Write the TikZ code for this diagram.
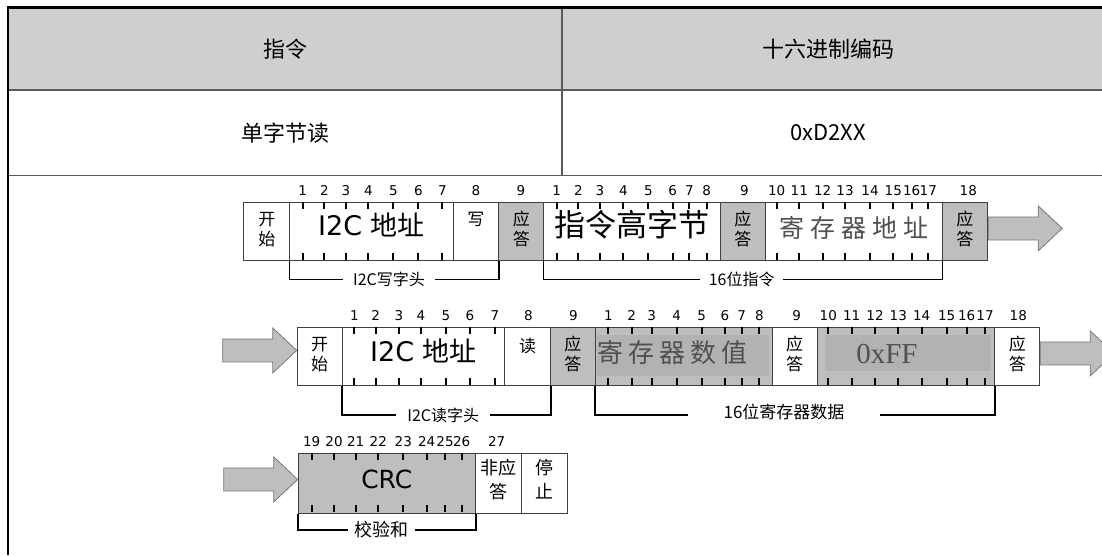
\documentclass[tikz,border=0pt]{standalone}
\usepackage{fontspec}
\setmainfont{DejaVu Sans}
\newfontfamily\cjk{Noto Sans CJK SC}
\newfontfamily\romanff{Liberation Serif}
\usetikzlibrary{positioning}
\definecolor{hdgray}{HTML}{D0CECE}
\definecolor{ackgray}{HTML}{BEBEBE}
\definecolor{innergray}{HTML}{B2B2B2}
\definecolor{boxline}{HTML}{404040}
\definecolor{tabline}{HTML}{5A5A5A}
\definecolor{fadetext}{HTML}{505050}
\definecolor{arrowline}{HTML}{787878}
\tikzset{
    cell/.style={draw=boxline, line width=0.9pt, inner sep=0pt, anchor=north west,
    	minimum height=58.5pt},
    ack/.style={cell, fill=ackgray},
    small/.style={inner sep=0pt, align=center, font=\cjk\fontsize{17}{20}\selectfont},
    big/.style={inner sep=0pt, font=\fontsize{27}{30}\selectfont}
}
\tikzset{
    tick/.style={line width=1.8pt},
    bitno/.style={inner sep=0pt, anchor=base, font=\fontsize{13.5}{15}\selectfont},
    bracket/.style={line width=1.6pt},
    brlabel/.style={inner sep=0pt, font=\cjk\fontsize{16}{18}\selectfont}
}
\tikzset{
    tabtext/.style={inner sep=0pt, font=\cjk\fontsize{22}{26}\selectfont},
    pics/cont/.style={code={
    	\draw[draw=arrowline, fill=ackgray, line width=0.8pt]
    	(0,-11.5) -- (50,-11.5) -- (50,-22.5) -- (74,0) -- (50,22.5) -- (50,11.5) -- (0,11.5) -- cycle;
    }}
}

\begin{document}
\begin{tikzpicture}[x=1pt,y=-1pt]
  \useasboundingbox (0,0) rectangle (1102,555);
  \fill[white] (0,0) rectangle (1102,555);

  \fill[hdgray] (9,9) rectangle (1102,90);
  \draw[tabline, line width=1.2pt] (8,90) -- (1102,90);
  \draw[tabline, line width=1.2pt] (8,175.5) -- (1102,175.5);
  \draw[tabline, line width=1.2pt] (562,9) -- (562,175.5);
  \draw[line width=3pt] (6.5,7.5) -- (1102,7.5);
  \draw[line width=2.6pt] (8,6) -- (8,555);

  \node (hd1) [tabtext] at (285,49.5) {指令};
  \node (hd2) [tabtext] at (828,49.5) {十六进制编码};
  \node (cmd) [tabtext] at (285,132.7) {单字节读};
  \node (code) [tabtext] at (828,132.7) {0xD2XX};

  \node (st1) [cell, minimum width=46pt] at (243.3,201.7) {};
  \node (ad1) [cell, minimum width=163.4pt] at (289.3,201.7) {};
  \node (wr1) [cell, minimum width=45.6pt] at (452.7,201.7) {};
  \node (ak1) [ack, minimum width=45pt] at (498.3,201.7) {};
  \node (ch1) [cell, minimum width=176.7pt] at (543.3,201.7) {};
  \node (ak2) [ack, minimum width=45pt] at (720,201.7) {};
  \node (ra1) [cell, minimum width=176.7pt] at (765,201.7) {};
  \node (ak3) [ack, minimum width=45.6pt] at (941.7,201.7) {};

  \node (st1t) [small] at ([yshift=2pt]st1.center) {开\\始};
  \node (ad1t) [big] at ([yshift=6pt]ad1.center) {I2C {\cjk 地址}};
  \node (wr1t) [small, below=10pt of wr1.north] {写};
  \node (ak1t) [small] at ([yshift=2pt]ak1.center) {应\\答};
  \node (ch1t) [inner sep=0pt, font=\cjk\fontsize{31}{34}\selectfont] at ([yshift=7pt]ch1.center) {指令高字节};
  \node (ak2t) [small] at ([yshift=2pt]ak2.center) {应\\答};
  \node (ra1t) [inner sep=0pt, text=fadetext, font=\cjk\fontsize{25}{28}\selectfont] at ([yshift=3pt]ra1.center)
  	{寄\hspace{6pt}存\hspace{6pt}器\hspace{6pt}地\hspace{6pt}址};
  \node (ak3t) [small] at ([yshift=2pt]ak3.center) {应\\答};

  \foreach \x/\n [count=\k] in {302.7/1,324.3/2,346/3,368.3/4,393.3/5,418.3/6,442.3/7,
  	556.7/1,578.3/2,600/3,623.3/4,648.3/5,672.7/6,689.3/7,706.7/8,
  	776.7/10,799.3/11,822.7/12,845/13,870/14,893.3/15,911.7/16,928.3/17} {
    \node (ba\k) [bitno] at (\x,195) {\n};
    \draw[tick] (\x,201.7) -- ++(0,7);
    \draw[tick] (\x,260.2) -- ++(0,-7);
  }
  \foreach \x/\n [count=\k] in {476/8,521/9,744.3/9,968.3/18}
    \node (bb\k) [bitno] at (\x,195) {\n};

  \node (hw1) [brlabel, minimum width=92pt] at (389,279.3) {I2C写字头};
  \draw[bracket] (ad1.south west) |- (hw1.west);
  \draw[bracket] (hw1.east) -| (wr1.south east);
  \node (ci1) [brlabel, minimum width=83pt] at (741.7,279.3) {16位指令};
  \draw[bracket] (ch1.south west) |- (ci1.west);
  \draw[bracket] (ci1.east) -| (ra1.south east);

  \pic at ([yshift=3pt]ak3.east) {cont};

  \node (st2) [cell, minimum width=45pt] at (296.7,326.7) {};
  \node (ad2) [cell, minimum width=162.6pt] at (341.7,326.7) {};
  \node (rd2) [cell, minimum width=45.7pt] at (504.3,326.7) {};
  \node (ak4) [ack, minimum width=45pt] at (550,326.7) {};
  \node (rv2) [ack, minimum width=176.7pt] at (595,326.7) {};
  \node (ak5) [cell, minimum width=45pt] at (771.7,326.7) {};
  \node (ff2) [ack, minimum width=177.6pt] at (816.7,326.7) {};
  \node (ak6) [cell, minimum width=45pt] at (994.3,326.7) {};
  \fill[innergray] ([xshift=2pt,yshift=-8pt]rv2.north west) rectangle ([xshift=-4pt,yshift=10pt]rv2.south east);
  \fill[innergray] ([xshift=8pt,yshift=-8pt]ff2.north west) rectangle ([xshift=-4pt,yshift=15pt]ff2.south east);

  \node (st2t) [small] at ([yshift=2pt]st2.center) {开\\始};
  \node (ad2t) [big] at ([yshift=5pt]ad2.center) {I2C {\cjk 地址}};
  \node (rd2t) [small, below=11pt of rd2.north] {读};
  \node (ak4t) [small] at ([yshift=2pt]ak4.center) {应\\答};
  \node (rv2t) [inner sep=0pt, text=fadetext, font=\cjk\fontsize{26}{28}\selectfont] at ([yshift=4pt,xshift=-11pt]rv2.center)
  	{寄\hspace{5pt}存\hspace{5pt}器\hspace{5pt}数\hspace{5pt}值};
  \node (ak5t) [small] at ([yshift=2pt]ak5.center) {应\\答};
  \node (ff2t) [inner sep=0pt, text=fadetext, font=\romanff\fontsize{29}{30}\selectfont] at ([yshift=2pt,xshift=-19pt]ff2.center) {0xFF};
  \node (ak6t) [small] at ([yshift=2pt]ak6.center) {应\\答};

  \foreach \x/\n [count=\k] in {354.3/1,375.7/2,399/3,421/4,446/5,470/6,495/7,
  	608.3/1,631.7/2,651.7/3,676.7/4,701.7/5,725/6,741.7/7,759.3/8,
  	828.3/10,851.7/11,875/12,898.3/13,921.7/14,946.7/15,966.7/16,985/17} {
    \node (bc\k) [bitno] at (\x,320) {\n};
    \draw[tick] (\x,326.7) -- ++(0,7);
    \draw[tick] (\x,385.2) -- ++(0,-7);
  }
  \foreach \x/\n [count=\k] in {528.3/8,573.3/9,796.7/9,1018.3/18}
    \node (bd\k) [bitno] at (\x,320) {\n};

  \node (hr2) [brlabel, minimum width=93.3pt] at (443.3,415) {I2C读字头};
  \draw[bracket] (ad2.south west) |- (hr2.west);
  \draw[bracket] (hr2.east) -| (rd2.south east);
  \node (rd16) [brlabel, minimum width=191.7pt, font=\cjk\fontsize{17}{18}\selectfont] at (784,412) {16位寄存器数据};
  \draw[bracket] (rv2.south west) |- ([yshift=-3pt]rd16.west);
  \draw[bracket] ([yshift=-3pt]rd16.east) -| (ff2.south east);

  \pic at ([xshift=-74pt,yshift=6pt]st2.west) {cont};
  \pic at ([yshift=3pt]ak6.east) {cont};

  \node (crc) [ack, minimum width=177.3pt, minimum height=59.4pt] at (297.7,453.3) {};
  \node (nak) [cell, minimum width=45.7pt, minimum height=59.4pt] at (475,453.3) {};
  \node (sp3) [cell, minimum width=46pt, minimum height=59.4pt] at (520.7,453.3) {};

  \node (crct) [big, font=\fontsize{25}{28}\selectfont] at ([yshift=4pt]crc.center) {CRC};
  \node (nakt) [small, font=\cjk\fontsize{18}{24}\selectfont] at ([yshift=4pt]nak.center) {非应\\答};
  \node (sp3t) [small, font=\cjk\fontsize{18}{24}\selectfont] at ([yshift=4pt]sp3.center) {停\\止};

  \foreach \x/\n [count=\k] in {311.7/19,334/20,355.7/21,378.3/22,403.3/23,426.7/24,445/25,461.7/26} {
    \node (be\k) [bitno] at (\x,446.7) {\n};
    \draw[tick] (\x,453.3) -- ++(0,7);
    \draw[tick] (\x,512.2) -- ++(0,-7);
  }
  \node (bf1) [bitno] at (496.7,446.7) {27};

  \node (cs3) [brlabel, minimum width=66.7pt, font=\cjk\fontsize{18}{20}\selectfont] at (381.7,530) {校验和};
  \draw[bracket] (crc.south west) |- (cs3.west);
  \draw[bracket] (cs3.east) -| (crc.south east);

  \pic at ([xshift=-74pt,yshift=4pt]crc.west) {cont};
\end{tikzpicture}
\end{document}
